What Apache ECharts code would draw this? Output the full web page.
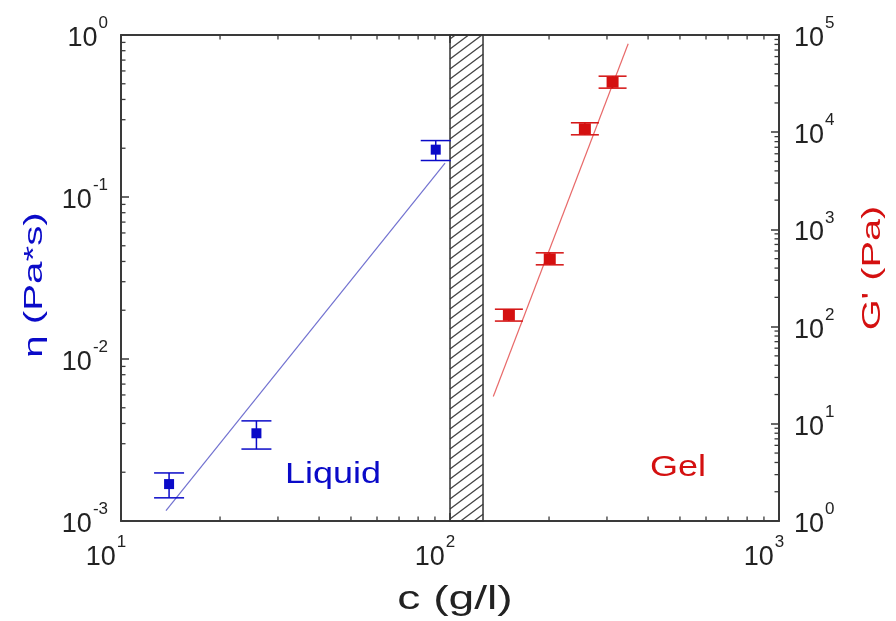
<!DOCTYPE html>
<html><head><meta charset="utf-8">
<script src="https://cdn.jsdelivr.net/npm/echarts@6/dist/echarts.min.js"></script>
<style>html,body{margin:0;padding:0;background:#fff}#c{width:896px;height:621px}</style>
</head><body><div id="c"></div>
<script>
// ---- data ----
const xTickExp = [1, 2, 3];
const etaTickExp = [-3, -2, -1, 0];
const gTickExp = [0, 1, 2, 3, 4, 5];

const liquidC = [14, 25.8, 90.5];
const liquidEta = [0.00169, 0.00348, 0.196];
const liquidEtaLow = [0.00139, 0.00278, 0.168];
const liquidEtaHigh = [0.00198, 0.00415, 0.223];

const gelC = [151, 201, 257, 312];
const gelG = [131, 498, 10840, 32700];
const gelGLow = [114, 432, 9400, 28400];
const gelGHigh = [151, 574, 12500, 37700];

const liquidFitC = [13.7, 96.6];
const liquidFitEta = [0.001157, 0.162];
const gelFitC = [135.4, 348];
const gelFitG = [19.1, 81300];

const transitionRange = [100, 126];

// ---- styling ----
const FONT = "'Liberation Sans', Arial, sans-serif";
const BLUE = '#0a0ac8';
const BLUE_LINE = '#7272d0';
const RED = '#d41010';
const RED_LINE = '#e86a6a';
const AXIS = '#3a3a3a';

function minorValues(lo, hi) {
  const out = [];
  for (let e = lo; e < hi; e++) for (let m = 2; m <= 9; m++) out.push(m * Math.pow(10, e));
  return out;
}
const xMinor = minorValues(1, 3);
const etaMinor = minorValues(-3, 0);
const gMinor = minorValues(0, 5);

function supLabel(list, isX) {
  return function (v) {
    const e = Math.round(Math.log10(v));
    if (!list.includes(e)) return '';
    return isX ? '{b|10}{s|' + e + '}{p| }' : '{b|10}{s|' + e + '}';
  };
}
const rich = {
  b: { fontSize: 27, color: '#222', fontFamily: FONT, lineHeight: 27 },
  s: { fontSize: 17, color: '#222', fontFamily: FONT, lineHeight: 17, padding: [0, 0, 30, 1] },
  p: { width: 30, fontSize: 10 }
};

const chart = echarts.init(document.getElementById('c'), null, { renderer: 'canvas' });

function axisCommon() {
  return {
    axisLine: { show: true, onZero: false, lineStyle: { color: AXIS, width: 2 } },
    axisTick: { show: true, inside: true, length: 8, lineStyle: { color: AXIS, width: 1.5 } },
    splitLine: { show: false }
  };
}

const option = {
  animation: false,
  backgroundColor: '#fff',
  grid: { left: 121, right: 117, top: 35, bottom: 100 },
  xAxis: [
    Object.assign(axisCommon(), {
      type: 'log', logBase: 10, min: 10, max: 1000, position: 'bottom',
      axisLabel: { show: true, margin: 23, align: 'center', formatter: supLabel(xTickExp, true), rich: rich }
    }),
    Object.assign(axisCommon(), {
      type: 'log', logBase: 10, min: 10, max: 1000, position: 'top',
      axisLabel: { show: false }
    })
  ],
  yAxis: [
    Object.assign(axisCommon(), {
      type: 'log', logBase: 10, min: 0.001, max: 1, position: 'left',
      axisLabel: { show: true, margin: 13, padding: [7, 0, 0, 0], formatter: supLabel(etaTickExp, false), rich: rich }
    }),
    Object.assign(axisCommon(), {
      type: 'log', logBase: 10, min: 1, max: 100000, position: 'right',
      axisLabel: { show: true, margin: 15, padding: [7, 0, 0, 0], formatter: supLabel(gTickExp, false), rich: rich }
    })
  ],
  series: [
    // hatched transition band
    {
      type: 'custom', xAxisIndex: 0, yAxisIndex: 0, silent: true, z: 1,
      encode: { x: [0, 1], y: 2 },
      data: [[transitionRange[0], transitionRange[1], 0.01]],
      renderItem: function (params, api) {
        const cs = params.coordSys;
        const x0 = api.coord([api.value(0), 0.01])[0];
        const x1 = api.coord([api.value(1), 0.01])[0];
        const yT = cs.y, yB = cs.y + cs.height, w = x1 - x0;
        const s = 0.75, d = 10;
        const children = [];
        for (let k = yT + 4; k < yB + s * w; k += d) {
          const p1 = k <= yB ? [x0, k] : [x0 + (k - yB) / s, yB];
          const yr = k - s * w;
          const p2 = yr >= yT ? [x1, yr] : [x0 + (k - yT) / s, yT];
          children.push({ type: 'line', shape: { x1: p1[0], y1: p1[1], x2: p2[0], y2: p2[1] }, style: { stroke: '#444', lineWidth: 1.3 } });
        }
        children.push({ type: 'rect', shape: { x: x0, y: yT, width: w, height: yB - yT }, style: { fill: null, stroke: '#333', lineWidth: 1.5 } });
        return { type: 'group', children: children };
      }
    },
    // minor ticks (x + left y)
    {
      type: 'custom', xAxisIndex: 0, yAxisIndex: 0, silent: true, z: 3,
      data: [[100, 0.01]],
      renderItem: function (params, api) {
        const cs = params.coordSys;
        const top = cs.y, bot = cs.y + cs.height, left = cs.x;
        const L = 4.5, st = { stroke: AXIS, lineWidth: 1.3 };
        const ch = [];
        xMinor.forEach(function (v) {
          const x = api.coord([v, 0.01])[0];
          ch.push({ type: 'line', shape: { x1: x, y1: bot, x2: x, y2: bot - L }, style: st });
          ch.push({ type: 'line', shape: { x1: x, y1: top, x2: x, y2: top + L }, style: st });
        });
        etaMinor.forEach(function (v) {
          const y = api.coord([100, v])[1];
          ch.push({ type: 'line', shape: { x1: left, y1: y, x2: left + L, y2: y }, style: st });
        });
        return { type: 'group', children: ch };
      }
    },
    // minor ticks (right y)
    {
      type: 'custom', xAxisIndex: 0, yAxisIndex: 1, silent: true, z: 3,
      data: [[100, 10]],
      renderItem: function (params, api) {
        const cs = params.coordSys;
        const right = cs.x + cs.width;
        const L = 4.5, st = { stroke: AXIS, lineWidth: 1.3 };
        const ch = [];
        gMinor.forEach(function (v) {
          const y = api.coord([100, v])[1];
          ch.push({ type: 'line', shape: { x1: right, y1: y, x2: right - L, y2: y }, style: st });
        });
        return { type: 'group', children: ch };
      }
    },
    // fit lines
    {
      type: 'line', xAxisIndex: 0, yAxisIndex: 0, showSymbol: false, silent: true, z: 4,
      data: liquidFitC.map(function (c, i) { return [c, liquidFitEta[i]]; }),
      lineStyle: { color: BLUE_LINE, width: 1.2 }
    },
    {
      type: 'line', xAxisIndex: 0, yAxisIndex: 1, showSymbol: false, silent: true, z: 4,
      data: gelFitC.map(function (c, i) { return [c, gelFitG[i]]; }),
      lineStyle: { color: RED_LINE, width: 1.2 }
    },
    // error bars
    {
      type: 'custom', xAxisIndex: 0, yAxisIndex: 0, silent: true, z: 5,
      encode: { x: 0, y: [1, 2] },
      data: liquidC.map(function (c, i) { return [c, liquidEtaLow[i], liquidEtaHigh[i]]; }),
      renderItem: function (params, api) {
        const lo = api.coord([api.value(0), api.value(1)]);
        const hi = api.coord([api.value(0), api.value(2)]);
        const hw = 15, st = { stroke: BLUE, lineWidth: 1.5 };
        return { type: 'group', children: [
          { type: 'line', shape: { x1: lo[0], y1: lo[1], x2: hi[0], y2: hi[1] }, style: st },
          { type: 'line', shape: { x1: lo[0] - hw, y1: lo[1], x2: lo[0] + hw, y2: lo[1] }, style: st },
          { type: 'line', shape: { x1: hi[0] - hw, y1: hi[1], x2: hi[0] + hw, y2: hi[1] }, style: st }
        ] };
      }
    },
    {
      type: 'custom', xAxisIndex: 0, yAxisIndex: 1, silent: true, z: 5,
      encode: { x: 0, y: [1, 2] },
      data: gelC.map(function (c, i) { return [c, gelGLow[i], gelGHigh[i]]; }),
      renderItem: function (params, api) {
        const lo = api.coord([api.value(0), api.value(1)]);
        const hi = api.coord([api.value(0), api.value(2)]);
        const hw = 14, st = { stroke: RED, lineWidth: 1.5 };
        return { type: 'group', children: [
          { type: 'line', shape: { x1: lo[0], y1: lo[1], x2: hi[0], y2: hi[1] }, style: st },
          { type: 'line', shape: { x1: lo[0] - hw, y1: lo[1], x2: lo[0] + hw, y2: lo[1] }, style: st },
          { type: 'line', shape: { x1: hi[0] - hw, y1: hi[1], x2: hi[0] + hw, y2: hi[1] }, style: st }
        ] };
      }
    },
    // markers
    {
      type: 'scatter', xAxisIndex: 0, yAxisIndex: 0, symbol: 'rect', symbolSize: 10, z: 6, silent: true,
      data: liquidC.map(function (c, i) { return [c, liquidEta[i]]; }),
      itemStyle: { color: BLUE, opacity: 1 }
    },
    {
      type: 'scatter', xAxisIndex: 0, yAxisIndex: 1, symbol: 'rect', symbolSize: [12, 11], z: 6, silent: true,
      data: gelC.map(function (c, i) { return [c, gelG[i]]; }),
      itemStyle: { color: RED, opacity: 1 }
    }
  ],
  graphic: [
    { type: 'text', x: 455, y: 600, scaleX: 1.4, silent: true,
      style: { text: 'c (g/l)', fontSize: 33, fill: '#222', fontFamily: FONT, align: 'center', verticalAlign: 'middle', textAlign: 'center', textVerticalAlign: 'middle' } },
    { type: 'text', x: 35, y: 285, rotation: Math.PI / 2, scaleX: 1.55, silent: true,
      style: { text: 'η (Pa*s)', fontSize: 26, fill: BLUE, fontFamily: FONT, align: 'center', verticalAlign: 'middle', textAlign: 'center', textVerticalAlign: 'middle' } },
    { type: 'text', x: 873, y: 268, rotation: Math.PI / 2, scaleX: 1.53, silent: true,
      style: { text: "G' (Pa)", fontSize: 26, fill: RED, fontFamily: FONT, align: 'center', verticalAlign: 'middle', textAlign: 'center', textVerticalAlign: 'middle' } },
    { type: 'text', x: 333, y: 475, scaleX: 1.2, silent: true,
      style: { text: 'Liquid', fontSize: 30, fill: BLUE, fontFamily: FONT, align: 'center', verticalAlign: 'middle', textAlign: 'center', textVerticalAlign: 'middle' } },
    { type: 'text', x: 678, y: 468, scaleX: 1.2, silent: true,
      style: { text: 'Gel', fontSize: 30, fill: RED, fontFamily: FONT, align: 'center', verticalAlign: 'middle', textAlign: 'center', textVerticalAlign: 'middle' } }
  ]
};
chart.setOption(option);
</script>
</body></html>
